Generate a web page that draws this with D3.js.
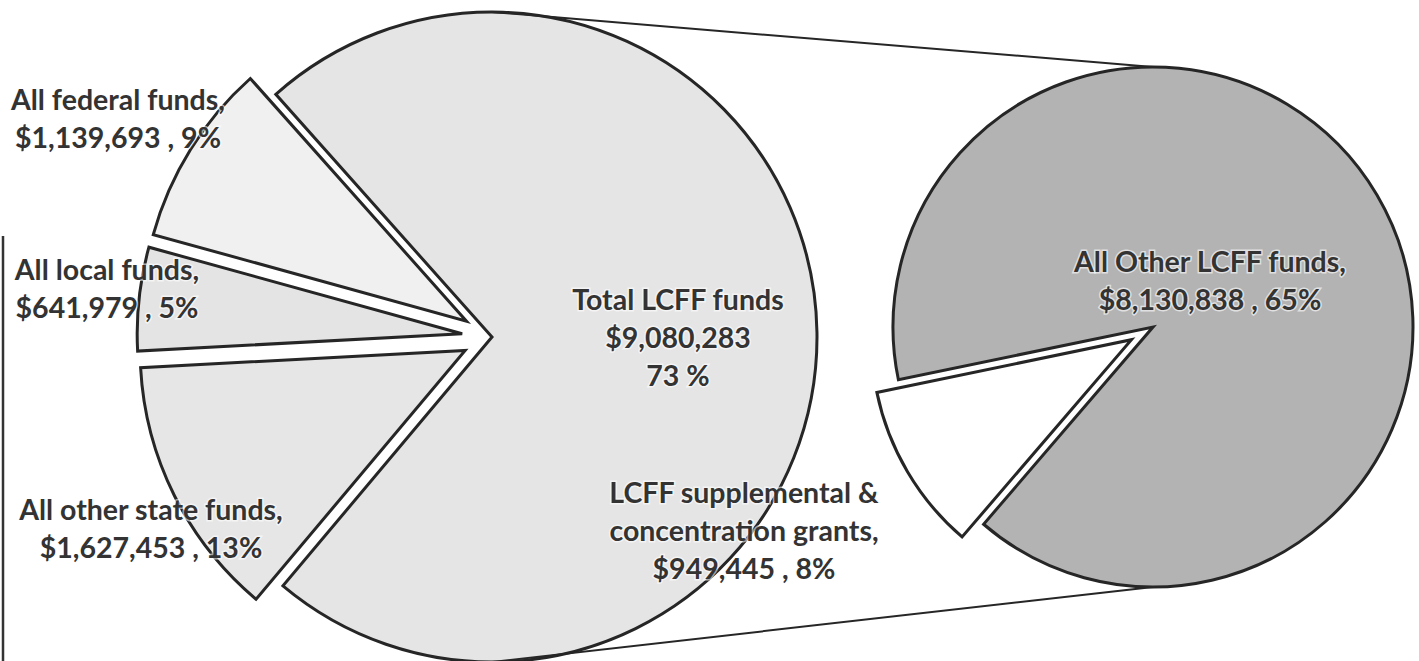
<!DOCTYPE html>
<html>
<head>
<meta charset="utf-8">
<script src="https://cdn.jsdelivr.net/npm/d3@7"></script>
<style>
  html, body { margin: 0; padding: 0; background: #fff; }
  svg { display: block; }
  .lbl { font-family: Lato, "Open Sans", sans-serif; font-weight: 700; font-size: 28.5px; fill: #333;
         stroke: #fff; stroke-width: 3px; stroke-opacity: 0.6; paint-order: stroke; }
</style>
</head>
<body>
<svg id="chart"></svg>
<script>
// ─── Data ─────────────────────────────────────────────────────────────────────
const mainCategories = ['Total LCFF funds', 'All other state funds', 'All local funds', 'All federal funds'];
const mainValues     = [9080283, 1627453, 641979, 1139693];
const mainPercents   = ['73 %', '13%', '5%', '9%'];

const subCategories  = ['All Other LCFF funds', 'LCFF supplemental & concentration grants'];
const subValues      = [8130838, 949445];
const subPercents    = ['65%', '8%'];

// ─── Layout ───────────────────────────────────────────────────────────────────
const W = 1419, H = 661;
const big   = { cx: 492,  cy: 337, r: 325, start: 318.3, explode: 30 };
const small = { cx: 1153, cy: 327, r: 260, start: 258.3, explode: 25 };

const mainFill  = ['#e5e5e5', '#e6e6e6', '#e4e4e4', '#f0f0f0'];
const mainBurst = [0, 1, 1, 1];           // which slices are pulled out
const subFill   = ['#b3b3b3', '#ffffff'];
const subBurst  = [0, 1];

// label anchor (center x, first line y) for each slice
const mainLabelPos = [[678, 300], [151, 510], [107, 270], [118, 100]];
const subLabelPos  = [[1210, 262], [744, 493]];
const lineGap = 38;

const fmt = d3.format(',');
const rad = deg => deg * Math.PI / 180;

const svg = d3.select('#chart').attr('width', W).attr('height', H);

// border line left over from the original frame
svg.append('line')
  .attr('x1', 3).attr('x2', 3).attr('y1', 236).attr('y2', H)
  .attr('stroke', '#333').attr('stroke-width', 2.5);

function drawPie(cfg, values, fills, burst) {
  const pie = d3.pie().sort(null)
    .startAngle(rad(cfg.start))
    .endAngle(rad(cfg.start + 360));
  const arc = d3.arc().innerRadius(0).outerRadius(cfg.r);
  const arcs = pie(values);

  const g = svg.append('g').attr('transform', `translate(${cfg.cx},${cfg.cy})`);
  g.selectAll('path')
    .data(arcs)
    .join('path')
    .attr('d', arc)
    .attr('fill', (d, i) => fills[i])
    .attr('stroke', '#262626')
    .attr('stroke-width', 3)
    .attr('stroke-linejoin', 'miter')
    .attr('transform', (d, i) => {
      if (!burst[i]) return null;
      const mid = (d.startAngle + d.endAngle) / 2;
      return `translate(${Math.sin(mid) * cfg.explode},${-Math.cos(mid) * cfg.explode})`;
    });
  return arcs;
}

drawPie(big, mainValues, mainFill, mainBurst);

// connector lines between the two pies
svg.append('g')
  .selectAll('line')
  .data([-1, 1])
  .join('line')
  .attr('x1', big.cx).attr('y1', s => big.cy + s * big.r)
  .attr('x2', small.cx).attr('y2', s => small.cy + s * small.r)
  .attr('stroke', '#262626')
  .attr('stroke-width', 2);

drawPie(small, subValues, subFill, subBurst);

// ─── Labels ───────────────────────────────────────────────────────────────────
const labels = [
  { pos: mainLabelPos[0], lines: [mainCategories[0], '$' + fmt(mainValues[0]), mainPercents[0]] },
  { pos: mainLabelPos[1], lines: [mainCategories[1] + ',', '$' + fmt(mainValues[1]) + ' , ' + mainPercents[1]] },
  { pos: mainLabelPos[2], lines: [mainCategories[2] + ',', '$' + fmt(mainValues[2]) + ' , ' + mainPercents[2]] },
  { pos: mainLabelPos[3], lines: [mainCategories[3] + ',', '$' + fmt(mainValues[3]) + ' , ' + mainPercents[3]] },
  { pos: subLabelPos[0],  lines: [subCategories[0] + ',', '$' + fmt(subValues[0]) + ' , ' + subPercents[0]] },
  { pos: subLabelPos[1],  lines: ['LCFF supplemental &', 'concentration grants,', '$' + fmt(subValues[1]) + ' , ' + subPercents[1]] }
];

const lg = svg.append('g');
labels.forEach(l => {
  const t = lg.append('text')
    .attr('class', 'lbl')
    .attr('text-anchor', 'middle')
    .attr('x', l.pos[0])
    .attr('y', l.pos[1]);
  l.lines.forEach((s, i) => {
    t.append('tspan')
      .attr('x', l.pos[0])
      .attr('dy', i === 0 ? '0.35em' : lineGap)
      .text(s);
  });
});
</script>
</body>
</html>
